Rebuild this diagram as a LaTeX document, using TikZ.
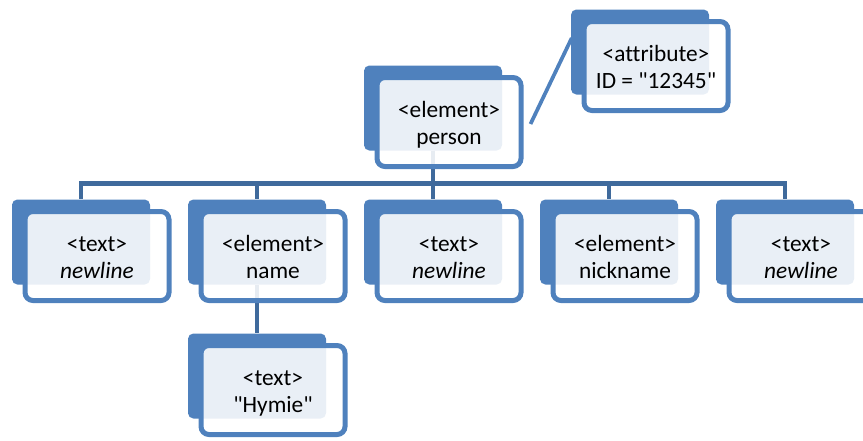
\documentclass[tikz,border=0pt]{standalone}
\usepackage{fontspec}
\newfontfamily\boxfont{Carlito}[Ligatures=NoCommon]
\definecolor{boxblue}{HTML}{4F81BD}
\definecolor{barblue}{HTML}{3F6A9C}
\newcommand{\boxtext}[2]{\raisebox{-3pt}[\height][\depth]{\begin{tabular}{@{}c@{}}#1\\#2\end{tabular}}}
\begin{document}
\begin{tikzpicture}
        [x=0.75pt, y=-0.75pt,
        back/.style={rectangle, rounded corners=4pt, fill=boxblue, minimum width=103.5pt, minimum height=63.75pt, inner sep=0pt},
        front/.style={rectangle, rounded corners=6pt, draw=boxblue, line width=3.75pt, fill=white, fill opacity=0.88, text opacity=1, minimum width=108pt, minimum height=66.75pt, inner sep=0pt, font=\boxfont\fontsize{17.5}{20.3}\selectfont},
        conn/.style={barblue, line width=3.6pt},
        attrline/.style={boxblue, line width=2.8pt}]
        \clip (0,0) rectangle (863,440);
        \node[back] (attrB) at (640,52) {};
        \node[back] (personB) at (433,108) {};
        \node[back] (textAB) at (81,242) {};
        \node[back] (nameB) at (257,242) {};
        \node[back] (textBB) at (433,242) {};
        \node[back] (nickB) at (609,242) {};
        \node[back] (textCB) at (785,242) {};
        \node[back] (hymieB) at (257,376) {};
        
        \draw[conn] (personB.south) -- ++(0,33) -| (textAB.north);
        \draw[conn] (personB.south) -- ++(0,33) -| (nameB.north);
        \draw[conn] (personB.south) -- (textBB.north);
        \draw[conn] (personB.south) -- ++(0,33) -| (nickB.north);
        \draw[conn] (personB.south) -- ++(0,33) -| (textCB.north);
        \draw[conn] (nameB.south) -- (hymieB.north);
        
        \node[front] (attrF) at (656,66) {\boxtext{<attribute>}{ID = "12345"}};
        \node[front] (personF) at (449,122) {\boxtext{<element>}{person}};
        \node[front] (textAF) at (97,256) {\boxtext{<text>}{\textit{newline}}};
        \node[front] (nameF) at (273,256) {\boxtext{<element>}{name}};
        \node[front] (textBF) at (449,256) {\boxtext{<text>}{\textit{newline}}};
        \node[front] (nickF) at (625,256) {\boxtext{<element>}{nickname}};
        \node[front] (textCF) at (801,256) {\boxtext{<text>}{\textit{newline}}};
        \node[front] (hymieF) at (273,390) {\boxtext{<text>}{"Hymie"}};
        
        \draw[attrline] ([shift={(7,2)}]personF.east) -- ([shift={(1,-14)}]attrB.west);
    
    \end{tikzpicture}
\end{document}
